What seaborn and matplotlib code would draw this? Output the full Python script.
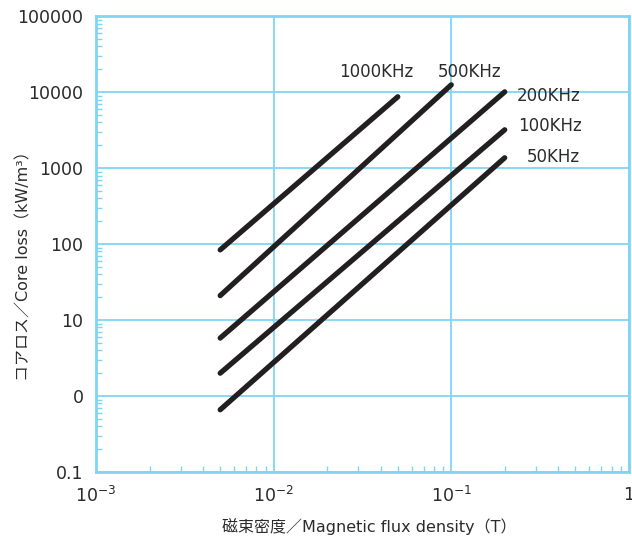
import matplotlib
matplotlib.use("Agg")
import matplotlib.pyplot as plt
import matplotlib.ticker as mticker
import numpy as np
import pandas as pd
import seaborn as sns

# core loss vs flux density, one straight segment per frequency
freqs = ["1000KHz", "500KHz", "200KHz", "100KHz", "50KHz"]
b_start = [0.005, 0.005, 0.005, 0.005, 0.005]
b_end = [0.05, 0.1, 0.2, 0.2, 0.2]
loss_start = [84, 21, 5.8, 2.0, 0.66]
loss_end = [8700, 12500, 10100, 3200, 1370]

x_ticks = [1e-3, 1e-2, 1e-1, 1]
x_labels = ["10$^{-3}$", "10$^{-2}$", "10$^{-1}$", "1"]
y_ticks = [0.1, 1, 10, 100, 1000, 10000, 100000]
y_labels = ["0.1", "0", "10", "100", "1000", "10000", "100000"]

rows = []
for f, b0, b1, p0, p1 in zip(freqs, b_start, b_end, loss_start, loss_end):
    rows.append({"freq": f, "B": b0, "P": p0})
    rows.append({"freq": f, "B": b1, "P": p1})
df = pd.DataFrame(rows)

sns.set_style("white")
plt.rcParams["font.family"] = ["DejaVu Sans", "Noto Sans CJK JP"]
plt.rcParams["mathtext.fontset"] = "dejavusans"
plt.rcParams["mathtext.default"] = "regular"

blue = "#7fd6f4"
ink = "#231f20"
txt = "#2b2b2b"

fig = plt.figure(figsize=(6.32, 5.41), dpi=100)
ax = fig.add_axes([0.152, 0.1275, 0.843, 0.8425])

sns.lineplot(data=df, x="B", y="P", hue="freq", palette=[ink] * 5,
             estimator=None, legend=False, linewidth=3.8, ax=ax,
             solid_capstyle="round")

ax.set_xscale("log")
ax.set_yscale("log")
ax.set_xlim(1e-3, 1)
ax.set_ylim(0.1, 100000)
ax.set_xlabel("")
ax.set_ylabel("")

ax.set_xticks(x_ticks)
ax.set_xticklabels(x_labels)
ax.set_yticks(y_ticks)
ax.set_yticklabels(y_labels)
ax.xaxis.set_minor_locator(mticker.LogLocator(base=10, subs=np.arange(2, 10)))
ax.yaxis.set_minor_locator(mticker.LogLocator(base=10, subs=np.arange(2, 10)))
ax.xaxis.set_minor_formatter(mticker.NullFormatter())
ax.yaxis.set_minor_formatter(mticker.NullFormatter())

ax.grid(True, which="major", color=blue, linewidth=1.3)
ax.tick_params(which="major", length=0, labelsize=12.5, colors=txt, pad=9)
ax.tick_params(axis="x", which="major", pad=10)
ax.tick_params(which="minor", direction="in", length=4, width=1, color=blue,
               bottom=True, left=True, top=False, right=False)
for s in ax.spines.values():
    s.set_color(blue)
    s.set_linewidth(2)
ax.set_axisbelow(True)

# frequency labels next to line ends
label_pos = [(0.0377, 18300), (0.126, 18300), (0.353, 8860), (0.36, 3570), (0.377, 1400)]
for f, (lx, ly) in zip(freqs, label_pos):
    ax.text(lx, ly, f, ha="center", va="center", fontsize=12, color=txt)

fig.text(0.585, 0.026, "磁束密度／Magnetic flux density（T）", fontsize=11.5,
         color=txt, ha="center", va="center")
fig.text(0.037, 0.516, "コアロス／Core loss（kW/m³）", fontsize=11.5,
         color=txt, ha="center", va="center", rotation=90)

fig.savefig("out.png", dpi=100)
